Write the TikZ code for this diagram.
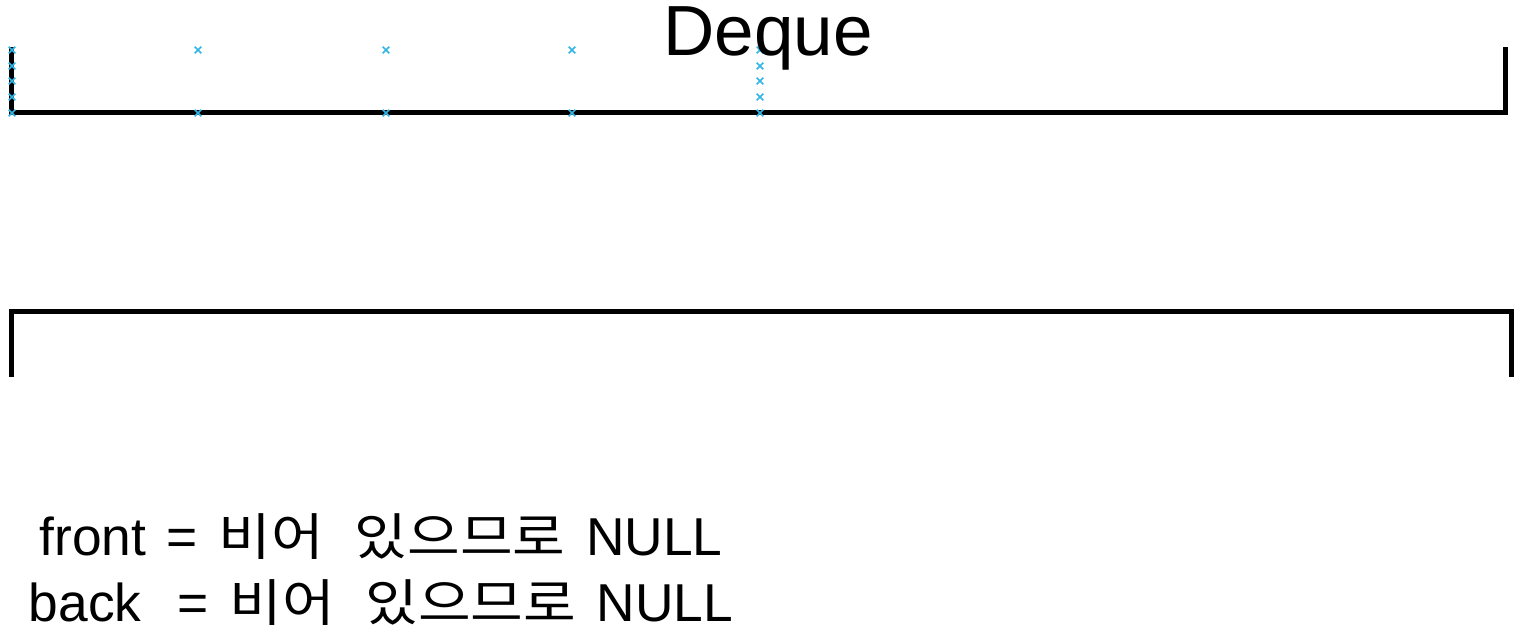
\documentclass[tikz,border=0pt]{standalone}
\usepackage{fontspec}
\setmainfont[WordSpace=1.4]{Liberation Sans}
\newfontfamily\krfont[Scale=0.95,FakeStretch=1.13]{Noto Sans CJK KR}
\definecolor{xblue}{RGB}{51,181,229}
\newcommand{\krgap}{\hspace{23pt}}
\begin{document}
\begin{tikzpicture}[x=0.75pt,y=-0.75pt]
\tikzset{
  bracketline/.style={line width=3.75pt, draw=black},
  xmark/.style={draw=xblue, line width=1.1pt},
  txt/.style={inner sep=0pt, anchor=base, font=\fontsize{40}{48}\selectfont},
  title/.style={inner sep=0pt, anchor=base, font=\fontsize{53.25}{64}\selectfont}
}
\useasboundingbox (0,0) rectangle (1523,630);
% top bracket
\coordinate (t1) at (11.5,47);
\coordinate (t2) at (11.5,112.5);
\coordinate (t3) at (1505.5,112.5);
\coordinate (t4) at (1505.5,47);
\draw[bracketline] (t1) -- (t2) -- (t3) -- (t4);
% bottom bracket
\coordinate (b1) at (11.5,377);
\coordinate (b2) at (11.5,311.5);
\coordinate (b3) at (1511.5,311.5);
\coordinate (b4) at (1511.5,377);
\draw[bracketline] (b1) -- (b2) -- (b3) -- (b4);
% blue marks
\foreach \p in {(12,50),(12,66),(12,81),(12,97),(12,113),
                (198,50),(198,113),(386,50),(386,113),(572,50),(572,113),
                (760,50),(760,66),(760,81),(760,97),(760,113)}{
  \draw[xmark] \p ++(-3.3,-3.3) -- ++(6.6,6.6) \p ++(-3.3,3.3) -- ++(6.6,-6.6);
}
\node[title] (deque) at (768,56) {Deque};
\node[txt] (front) at (381,555) {front = {\krfont 비어}\krgap{\krfont 있으므로} NULL};
\node[txt] (back) at (381,621) {back\hspace{27pt}= {\krfont 비어}\krgap{\krfont 있으므로} NULL};
\end{tikzpicture}
\end{document}
